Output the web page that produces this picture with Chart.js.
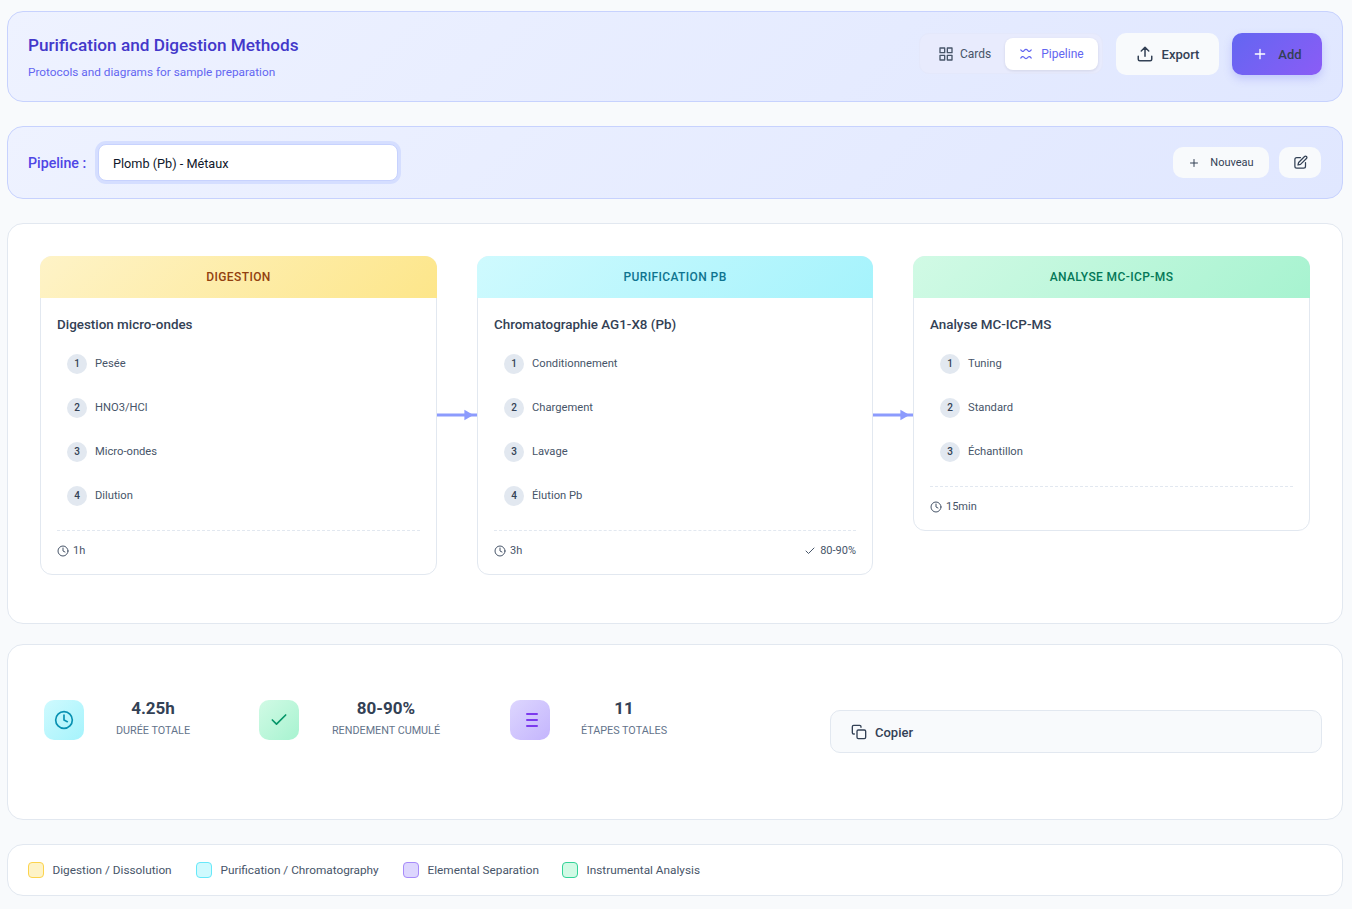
<!DOCTYPE html>
<html lang="fr">
<head>
<meta charset="utf-8">
<title>Purification and Digestion Methods</title>
<script src="https://cdn.jsdelivr.net/npm/chart.js@4"></script>
<style>
  * { box-sizing: border-box; }
  html, body { margin: 0; height: 909px; overflow: hidden; }
  body { background: #f8fafc; font-family: Roboto, "Noto Sans", sans-serif; color: #334155; position: relative; }
  .panel { position: absolute; left: 7px; width: 1336px; border-radius: 16px; border: 1px solid #e2e8f0; background: #fff; }
  .panel--tint { border-color: #c7d2fe; background: linear-gradient(135deg, #eef2ff, #e0e7ff); }
  .btn { position: absolute; display: flex; align-items: center; justify-content: center; border-radius: 10px; background: #f8fafc; color: #334155; font-weight: 500; }
  svg.ic { fill: none; stroke: currentColor; stroke-width: 2; stroke-linecap: round; stroke-linejoin: round; flex: none; }

  #head { top: 11px; height: 91px; }
  #head h1 { position: absolute; left: 20px; top: 20px; margin: 0; font-size: 17.2px; line-height: 27px; font-weight: 500; color: #4338ca; white-space: nowrap; }
  #head p { position: absolute; left: 20px; top: 51px; margin: 0; font-size: 11.8px; line-height: 18px; color: #6366f1; white-space: nowrap; }
  #toggle { position: absolute; left: 911px; top: 21px; width: 184px; height: 41px; border-radius: 10px; border: 1px solid #e4e8fb; background: #e8ebfd; }
  #bar { top: 126px; height: 73px; }
  #bar label { position: absolute; left: 20px; top: 26px; font-size: 14.2px; line-height: 20px; font-weight: 500; color: #4f46e5; }
  #select { position: absolute; left: 90px; top: 17px; width: 300px; height: 37px; border-radius: 8px; background: #fff; border: 1px solid #c7d2fe; box-shadow: 0 0 0 3px #d5deff; color: #0f172a; font-size: 12.7px; line-height: 37px; padding-left: 14px; }

  #flow { top: 223px; height: 401px; }
  .stage { position: absolute; top: 32px; border: 1px solid #e2e8f0; border-radius: 12px; background: #fff; }
  .stage__head { height: 42px; margin: -1px -1px 0; border-radius: 12px 12px 0 0; font-size: 12px; font-weight: 500; letter-spacing: .4px; line-height: 42px; text-align: center; }
  .stage__method { position: absolute; left: 16px; top: 58px; font-size: 13.4px; line-height: 20px; font-weight: 500; color: #334155; white-space: nowrap; }
  .step { position: absolute; left: 26px; height: 20px; display: flex; align-items: center; gap: 8px; font-size: 11.2px; color: #475569; white-space: nowrap; }
  .step b { width: 20px; height: 20px; border-radius: 50%; background: #e2e8f0; color: #334155; font-size: 10px; font-weight: 500; line-height: 20px; text-align: center; position: relative; top: 1px; }
  .stage__foot { position: absolute; left: 16px; right: 16px; border-top: 1px dashed #e2e8f0; height: 40px; font-size: 11px; color: #475569; }
  .stage__foot span { position: absolute; top: 11px; display: flex; align-items: center; gap: 4px; line-height: 18px; white-space: nowrap; }
  canvas.conn { position: absolute; top: 181px; width: 40px; height: 20px; }

  #stats { top: 644px; height: 176px; }
  .stat-ic { position: absolute; top: 55px; width: 40px; height: 40px; border-radius: 10px; display: flex; align-items: center; justify-content: center; }
  .stat { position: absolute; top: 51px; text-align: center; transform: translateX(-50%); white-space: nowrap; }
  .stat b { display: block; font-size: 17px; line-height: 24px; font-weight: 700; color: #334155; }
  .stat span { display: block; font-size: 10.8px; line-height: 18px; margin-top: 2px; color: #64748b; }
  #copy { position: absolute; left: 822px; top: 65px; width: 492px; height: 43px; border: 1px solid #e2e8f0; border-radius: 10px; background: #f8fafc; display: flex; align-items: center; gap: 8px; padding-left: 20px; font-size: 13px; font-weight: 500; color: #334155; }
  #copy span { position: relative; top: 1px; }

  #legend { top: 844px; height: 52px; }
  .key { position: absolute; top: 17px; display: flex; align-items: center; gap: 8.5px; font-size: 11.8px; line-height: 16px; color: #475569; white-space: nowrap; }
  .key i { width: 16px; height: 16px; border-radius: 4px; border: 1px solid; }
</style>
</head>
<body>

<section class="panel panel--tint" id="head">
  <h1>Purification and Digestion Methods</h1>
  <p>Protocols and diagrams for sample preparation</p>
  <div id="toggle"></div>
  <div class="btn" style="left:930px;top:26px;height:32px;background:none;font-size:12px;font-weight:400;color:#475569;gap:6px">
    <svg class="ic" width="16" height="16" viewBox="0 0 24 24"><rect x="3" y="3" width="7" height="7"/><rect x="14" y="3" width="7" height="7"/><rect x="3" y="14" width="7" height="7"/><rect x="14" y="14" width="7" height="7"/></svg>Cards</div>
  <div class="btn" style="left:997px;top:26px;width:93px;height:32px;background:#fff;border-radius:8px;box-shadow:0 1px 3px rgba(15,23,42,.1);font-size:12px;font-weight:400;color:#6366f1;gap:8px">
    <svg class="ic" width="14" height="14" viewBox="0 0 24 24"><path d="M3 5c2 3 4 3 5 2s2-3 4-3 3 2 4 3 3 1 5-2M3 19c2-3 4-3 5-2s2 3 4 3 3-2 4-3 3-1 5 2"/></svg>Pipeline</div>
  <div class="btn" style="left:1108px;top:21px;width:103px;height:42px;font-size:13px;gap:8px">
    <svg class="ic" width="18" height="18" viewBox="0 0 24 24"><path d="M21 15v4a2 2 0 0 1-2 2H5a2 2 0 0 1-2-2v-4M12 15V3M7 8l5-5 5 5"/></svg>Export</div>
  <div class="btn" style="left:1224px;top:21px;width:90px;height:42px;background:linear-gradient(135deg,#6366f1,#8b5cf6);box-shadow:0 4px 8px rgba(99,102,241,.25);font-size:13px;gap:10px">
    <svg class="ic" width="16" height="16" viewBox="0 0 24 24" style="color:#fff"><path d="M12 5v14M5 12h14"/></svg>Add</div>
</section>

<section class="panel panel--tint" id="bar">
  <label>Pipeline :</label>
  <div id="select">Plomb (Pb) - Métaux</div>
  <div class="btn" style="left:1165px;top:20px;width:96px;height:31px;font-size:11px;font-weight:400;gap:10px">
    <svg class="ic" width="12" height="12" viewBox="0 0 24 24"><path d="M12 5v14M5 12h14"/></svg>Nouveau</div>
  <div class="btn" style="left:1271px;top:20px;width:42px;height:31px">
    <svg class="ic" width="15" height="15" viewBox="0 0 24 24"><path d="M12 4H6a3 3 0 0 0-3 3v11a3 3 0 0 0 3 3h11a3 3 0 0 0 3-3v-6"/><path d="M18.500 2.500a2.100 2.100 0 0 1 3 3L12 15l-4 1 1-4z"/></svg></div>
</section>

<section class="panel" id="flow"></section>

<section class="panel" id="stats"></section>

<section class="panel" id="legend"></section>

<script>
// Pipeline content, one list per stage
const STAGE_NAMES = ["DIGESTION", "PURIFICATION PB", "ANALYSE MC-ICP-MS"];
const STAGE_METHODS = ["Digestion micro-ondes", "Chromatographie AG1-X8 (Pb)", "Analyse MC-ICP-MS"];
const STEPS_DIGESTION = ["Pesée", "HNO3/HCl", "Micro-ondes", "Dilution"];
const STEPS_PURIFICATION = ["Conditionnement", "Chargement", "Lavage", "Élution Pb"];
const STEPS_ANALYSE = ["Tuning", "Standard", "Échantillon"];
const STAGE_TIMES = ["1h", "3h", "15min"];
const STAGE_YIELDS = ["", "80-90%", ""];

const STAT_VALUES = ["4.25h", "80-90%", "11"];
const STAT_LABELS = ["DURÉE TOTALE", "RENDEMENT CUMULÉ", "ÉTAPES TOTALES"];

const LEGEND_LABELS = ["Digestion / Dissolution", "Purification / Chromatography", "Elemental Separation", "Instrumental Analysis"];

// Connector lines between stages: x runs 0-100 across the gap, arrowhead at 76
const CONNECTOR_X = [0, 76, 100];
const CONNECTOR_Y = [1, 1, 1];

const STAGE_STEPS = [STEPS_DIGESTION, STEPS_PURIFICATION, STEPS_ANALYSE];
const STAGE_LEFT = [32, 469, 905];
const STAGE_WIDTH = [397, 396, 397];
const STAGE_HEAD = [
  ["linear-gradient(135deg,#fef3c7,#fde68a)", "#92400e"],
  ["linear-gradient(135deg,#cffafe,#a5f3fc)", "#0e7490"],
  ["linear-gradient(135deg,#d1fae5,#a7f3d0)", "#047857"],
];

const CLOCK = size => `<svg class="ic" width="${size}" height="${size}" viewBox="0 0 24 24"><circle cx="12" cy="12" r="10"/><path d="M12 6v6l4 2"/></svg>`;
const CHECK = size => `<svg class="ic" width="${size}" height="${size}" viewBox="0 0 24 24"><path d="M20 6 9 17l-5-5"/></svg>`;

// ---------- Stages ----------

const flow = document.getElementById("flow");
let flowHtml = "";
STAGE_NAMES.forEach((name, i) => {
  const steps = STAGE_STEPS[i];
  const foot = 97 + steps.length * 44;
  const stepHtml = steps.map((s, n) =>
    `<div class="step" style="top:${96 + n * 44}px"><b>${n + 1}</b><span>${s}</span></div>`
  ).join("");
  const yieldHtml = STAGE_YIELDS[i]
    ? `<span style="right:0">${CHECK(12)}${STAGE_YIELDS[i]}</span>` : "";
  flowHtml += `
    <div class="stage" style="left:${STAGE_LEFT[i]}px;width:${STAGE_WIDTH[i]}px;height:${steps.length * 44 + 143}px">
      <div class="stage__head" style="background:${STAGE_HEAD[i][0]};color:${STAGE_HEAD[i][1]}">${name}</div>
      <div class="stage__method">${STAGE_METHODS[i]}</div>
      ${stepHtml}
      <div class="stage__foot" style="top:${foot}px"><span style="left:0">${CLOCK(12)}${STAGE_TIMES[i]}</span>${yieldHtml}</div>
    </div>`;
});
[429, 865].forEach((left, i) => {
  flowHtml += `<canvas class="conn" id="conn${i}" width="40" height="20" style="left:${left}px"></canvas>`;
});
flow.innerHTML = flowHtml;

// ---------- Connectors ----------

[0, 1].forEach(i => {
  new Chart(document.getElementById("conn" + i), {
    type: "scatter",
    data: {
      datasets: [{
        data: CONNECTOR_X.map((x, k) => ({ x, y: CONNECTOR_Y[k] })),
        showLine: true,
        borderColor: "#8c9bfd",
        borderWidth: 3,
        backgroundColor: "#8c9bfd",
        pointStyle: "triangle",
        pointRotation: 90,
        pointRadius: [0, 6, 0],
        pointBorderWidth: 0,
      }],
    },
    options: {
      responsive: false,
      devicePixelRatio: 1,
      animation: false,
      layout: { padding: 0 },
      plugins: { legend: { display: false }, tooltip: { enabled: false } },
      scales: {
        x: { type: "linear", min: 0, max: 100, display: false },
        y: { type: "linear", min: 0, max: 2, display: false },
      },
    },
  });
});

// ---------- Stats ----------

const STAT_ICONS = [
  [36, "linear-gradient(135deg,#cffafe,#a5f3fc)", "#0891b2", CLOCK(20)],
  [251, "linear-gradient(135deg,#d1fae5,#a7f3d0)", "#059669", CHECK(20)],
  [502, "linear-gradient(135deg,#ddd6fe,#c4b5fd)", "#7c3aed",
    `<svg class="ic" width="24" height="24" viewBox="0 0 24 24" style="margin-left:4px"><path d="M7 6h10M7 12h10M7 18h10"/></svg>`],
];
const STAT_CENTERS = [145, 378, 616];
let statsHtml = "";
STAT_VALUES.forEach((v, i) => {
  const [left, bg, col, icon] = STAT_ICONS[i];
  statsHtml += `<div class="stat-ic" style="left:${left}px;background:${bg};color:${col}">${icon}</div>
    <div class="stat" style="left:${STAT_CENTERS[i]}px"><b>${v}</b><span>${STAT_LABELS[i]}</span></div>`;
});
statsHtml += `<div id="copy"><svg class="ic" width="16" height="16" viewBox="0 0 24 24"><rect x="9" y="9" width="13" height="13" rx="2"/><path d="M5 15H4a2 2 0 0 1-2-2V4a2 2 0 0 1 2-2h9a2 2 0 0 1 2 2v1"/></svg><span>Copier</span></div>`;
document.getElementById("stats").innerHTML = statsHtml;

// ---------- Legend ----------

const KEY_LEFT = [20, 188, 395, 554];
const KEY_STYLE = [
  ["#fef3c7", "#fcd34d"], ["#cffafe", "#67e8f9"], ["#ddd6fe", "#a78bfa"], ["#d1fae5", "#34d399"],
];
document.getElementById("legend").innerHTML = LEGEND_LABELS.map((t, i) =>
  `<div class="key" style="left:${KEY_LEFT[i]}px"><i style="background:${KEY_STYLE[i][0]};border-color:${KEY_STYLE[i][1]}"></i>${t}</div>`
).join("");
</script>
</body>
</html>
